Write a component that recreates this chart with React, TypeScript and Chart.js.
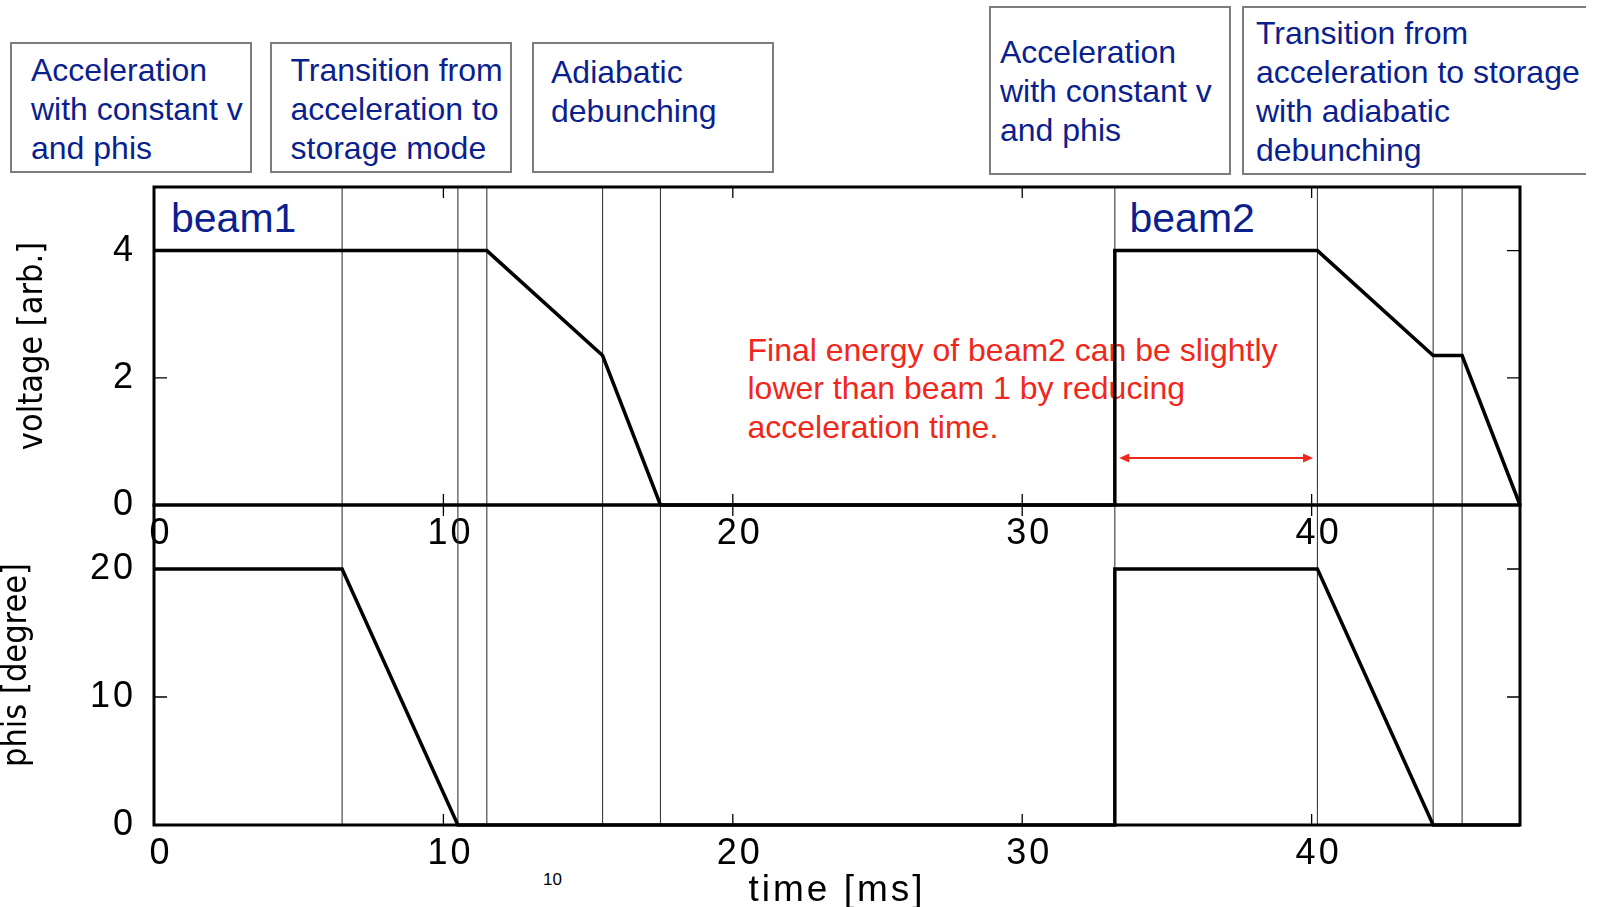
import { useEffect, useRef } from 'react';
import { Chart, registerables } from 'chart.js';

Chart.register(...registerables);

// ---- data ----------------------------------------------------------------

// time axis [ms]
const timeMax = 47.2;
const timeTicks = [0, 10, 20, 30, 40];
// boundaries between the RF programme phases (thin vertical rules)
const phaseBoundaries = [6.5, 10.5, 11.5, 15.5, 17.5, 33.2, 40.2, 44.2, 45.2];

// RF voltage programme (beam1 then beam2)
const voltageTime = [0, 11.5, 15.5, 17.5, 33.2, 33.2, 40.2, 44.2, 45.2, 47.2];
const voltageValue = [4, 4, 2.35, 0, 0, 4, 4, 2.35, 2.35, 0];
const voltageMax = 5;
const voltageTicks = [0, 2, 4];

// synchronous phase programme
const phisTime = [0, 6.5, 10.5, 33.2, 33.2, 40.2, 44.2, 47.2];
const phisValue = [20, 20, 0, 0, 20, 20, 0, 0];
const phisMax = 25;
const phisTicks = [0, 10, 20];

// shortened acceleration window of beam2 (double arrow)
const arrowSpan = [33.35, 40.05];
const arrowLevel = 0.74;

// phase descriptions above the plot
const boxTexts = [
  ['Acceleration', 'with constant v', 'and phis'],
  ['Transition from', 'acceleration to', 'storage mode'],
  ['Adiabatic', 'debunching'],
  ['Acceleration', 'with constant v', 'and phis'],
  ['Transition from', 'acceleration to storage', 'with adiabatic', 'debunching'],
];
const noteLines = [
  'Final energy of beam2 can be slightly',
  'lower than beam 1 by reducing',
  'acceleration time.',
];

// ---- layout --------------------------------------------------------------

const W = 1610;
const H = 907;
const PLOT_LEFT = 154;
const PLOT_RIGHT = 1520;
const TOP_PANEL_TOP = 187;
const PANEL_SPLIT = 505;
const BOTTOM_PANEL_BOTTOM = 825;

const BLUE = '#0b1f8e';
const RED = '#f0281c';
const TICK_FONT = { family: "'Liberation Sans', Arial, Helvetica, sans-serif", size: 36 };
const TITLE_FONT = {
  family: "'DejaVu Sans Condensed', 'Liberation Sans', sans-serif",
  size: 34,
  lineHeight: 1,
};

const framePlugin = {
  id: 'panelFrame',
  beforeDatasetsDraw(chart: any) {
    const { ctx, chartArea: a, scales } = chart;
    const x = scales.x;
    ctx.save();
    ctx.strokeStyle = '#3a3a3a';
    ctx.lineWidth = 1.1;
    phaseBoundaries.forEach((t) => {
      const px = x.getPixelForValue(t);
      ctx.beginPath();
      ctx.moveTo(px, a.top);
      ctx.lineTo(px, a.bottom);
      ctx.stroke();
    });
    ctx.restore();
  },
  afterDatasetsDraw(chart: any, _args: any, opts: any) {
    const { ctx, chartArea: a, scales } = chart;
    const x = scales.x;
    const y = scales.y;
    ctx.save();
    ctx.strokeStyle = '#000';
    ctx.lineWidth = 1.3;
    // inward tick marks on all four sides
    timeTicks.forEach((t) => {
      const px = x.getPixelForValue(t);
      if (px < a.left + 2 || px > a.right - 2) return;
      ctx.beginPath();
      ctx.moveTo(px, a.bottom);
      ctx.lineTo(px, a.bottom - 11);
      ctx.moveTo(px, a.top);
      ctx.lineTo(px, a.top + 11);
      ctx.stroke();
    });
    (opts.yTicks as number[]).forEach((v) => {
      const py = y.getPixelForValue(v);
      ctx.beginPath();
      ctx.moveTo(a.left, py);
      ctx.lineTo(a.left + 13, py);
      ctx.moveTo(a.right, py);
      ctx.lineTo(a.right - 13, py);
      ctx.stroke();
    });
    // frame
    ctx.lineWidth = 3;
    ctx.strokeRect(a.left, a.top, a.right - a.left, a.bottom - a.top);

    // double arrow
    if (opts.arrow) {
      const x1 = x.getPixelForValue(arrowSpan[0]);
      const x2 = x.getPixelForValue(arrowSpan[1]);
      const py = y.getPixelForValue(arrowLevel);
      const head = 10;
      const half = 4.5;
      ctx.strokeStyle = RED;
      ctx.fillStyle = RED;
      ctx.lineWidth = 2;
      ctx.beginPath();
      ctx.moveTo(x1 + head - 1, py);
      ctx.lineTo(x2 - head + 1, py);
      ctx.stroke();
      ctx.beginPath();
      ctx.moveTo(x1, py);
      ctx.lineTo(x1 + head, py - half);
      ctx.lineTo(x1 + head, py + half);
      ctx.closePath();
      ctx.fill();
      ctx.beginPath();
      ctx.moveTo(x2, py);
      ctx.lineTo(x2 - head, py - half);
      ctx.lineTo(x2 - head, py + half);
      ctx.closePath();
      ctx.fill();
    }
    ctx.restore();
    // tick labels (drawn after the datasets) use a slightly spaced font
    ctx.letterSpacing = '3px';
  },
  afterDraw(chart: any) {
    chart.ctx.letterSpacing = '0px';
  },
};

type PanelSpec = {
  times: number[];
  values: number[];
  yMax: number;
  yTicks: number[];
  yTitle: string;
  yTitlePad: number;
  top: number;
  bottom: number;
  labelPad: number;
  xTitle?: string;
  arrow?: boolean;
};

function panelConfig(p: PanelSpec): any {
  const points = p.times.map((t, i) => ({ x: t, y: p.values[i] }));
  return {
    type: 'line',
    data: {
      datasets: [
        {
          data: points,
          borderColor: '#000',
          borderWidth: 3.5,
          pointRadius: 0,
          tension: 0,
          fill: false,
          clip: false,
          borderJoinStyle: 'miter',
        },
      ],
    },
    options: {
      responsive: false,
      animation: false,
      events: [],
      layout: { padding: { left: 0, top: p.top, right: W - PLOT_RIGHT, bottom: 0 } },
      plugins: {
        legend: { display: false },
        tooltip: { enabled: false },
        panelFrame: { yTicks: p.yTicks, arrow: !!p.arrow },
      },
      scales: {
        x: {
          type: 'linear',
          position: 'bottom',
          min: 0,
          max: timeMax,
          afterBuildTicks: (s: any) => {
            s.ticks = timeTicks.map((v) => ({ value: v }));
          },
          afterFit: (s: any) => {
            s.height = H - p.bottom;
          },
          grid: { display: false, drawTicks: false, z: 1 },
          border: { display: false },
          ticks: {
            color: '#000',
            font: TICK_FONT,
            padding: p.labelPad,
            labelOffset: 7,
            maxRotation: 0,
            minRotation: 0,
            autoSkip: false,
            z: 1,
            callback: (v: number) => String(v),
          },
          title: p.xTitle
            ? {
                display: true,
                text: p.xTitle,
                color: '#000',
                font: { family: TICK_FONT.family, size: 37, lineHeight: 1 },
                padding: { top: 0, bottom: -2 },
              }
            : { display: false },
        },
        y: {
          type: 'linear',
          min: 0,
          max: p.yMax,
          afterBuildTicks: (s: any) => {
            s.ticks = p.yTicks.map((v) => ({ value: v }));
          },
          afterFit: (s: any) => {
            s.width = PLOT_LEFT;
          },
          grid: { display: false, drawTicks: false },
          border: { display: false },
          ticks: {
            color: '#000',
            font: TICK_FONT,
            padding: 18,
            z: 1,
            callback: (v: number) => String(v),
          },
          title: {
            display: true,
            text: p.yTitle,
            color: '#000',
            font: TITLE_FONT,
            padding: { top: p.yTitlePad, bottom: 0 },
          },
        },
      },
    },
    plugins: [framePlugin],
  };
}

const abs = (left: number, top: number, extra: any = {}) => ({
  position: 'absolute' as const,
  left,
  top,
  ...extra,
});

const boxLayout = [
  { left: 10, top: 42, width: 242, height: 131, padL: 19, padT: 6.5, open: false },
  { left: 270, top: 42, width: 242, height: 131, padL: 18.5, padT: 6.5, open: false },
  { left: 532, top: 42, width: 242, height: 131, padL: 17, padT: 8.5, open: false },
  { left: 989, top: 6, width: 242, height: 169, padL: 9, padT: 24.5, open: false },
  { left: 1242, top: 6, width: 344, height: 169, padL: 12, padT: 5.5, open: true },
];

export default function App() {
  const topRef = useRef<HTMLCanvasElement>(null);
  const bottomRef = useRef<HTMLCanvasElement>(null);

  useEffect(() => {
    const voltageChart = new Chart(
      topRef.current!,
      panelConfig({
        times: voltageTime,
        values: voltageValue,
        yMax: voltageMax,
        yTicks: voltageTicks,
        yTitle: 'voltage [arb.]',
        yTitlePad: 16,
        top: TOP_PANEL_TOP,
        bottom: PANEL_SPLIT,
        labelPad: 7,
        arrow: true,
      })
    );
    const phisChart = new Chart(
      bottomRef.current!,
      panelConfig({
        times: phisTime,
        values: phisValue,
        yMax: phisMax,
        yTicks: phisTicks,
        yTitle: 'phis [degree]',
        yTitlePad: 0,
        top: PANEL_SPLIT,
        bottom: BOTTOM_PANEL_BOTTOM,
        labelPad: 7,
        xTitle: 'time [ms]',
      })
    );
    return () => {
      voltageChart.destroy();
      phisChart.destroy();
    };
  }, []);

  const sans = "'Liberation Sans', Arial, Helvetica, sans-serif";

  return (
    <div
      style={{
        position: 'absolute',
        left: 0,
        top: 0,
        width: W,
        height: H,
        overflow: 'hidden',
        background: '#fff',
        fontFamily: sans,
      }}
    >
      {boxTexts.map((lines, i) => {
        const b = boxLayout[i];
        return (
          <div
            key={i}
            style={abs(b.left, b.top, {
              width: b.width,
              height: b.height,
              boxSizing: 'border-box',
              border: '2px solid #7d7d7d',
              borderRight: b.open ? 'none' : '2px solid #7d7d7d',
              paddingLeft: b.padL,
              paddingTop: b.padT,
              color: BLUE,
              fontSize: 32,
              lineHeight: '39px',
              whiteSpace: 'nowrap',
            })}
          >
            {lines.map((l, j) => (
              <div key={j}>{l}</div>
            ))}
          </div>
        );
      })}

      <div style={abs(171, 194, { color: BLUE, fontSize: 41, lineHeight: '48px' })}>beam1</div>
      <div style={abs(1129.5, 194, { color: BLUE, fontSize: 41, lineHeight: '48px' })}>beam2</div>

      <div
        style={abs(747.5, 330.75, {
          color: RED,
          fontSize: 32,
          lineHeight: '38.5px',
          whiteSpace: 'nowrap',
        })}
      >
        {noteLines.map((l, j) => (
          <div key={j}>{l}</div>
        ))}
      </div>

      <div style={abs(543, 870, { color: '#000', fontSize: 17, lineHeight: '20px' })}>10</div>

      <canvas
        ref={topRef}
        width={W}
        height={H}
        style={abs(0, 0, { width: W, height: H, display: 'block' })}
      />
      <canvas
        ref={bottomRef}
        width={W}
        height={H}
        style={abs(0, 0, { width: W, height: H, display: 'block' })}
      />
    </div>
  );
}
